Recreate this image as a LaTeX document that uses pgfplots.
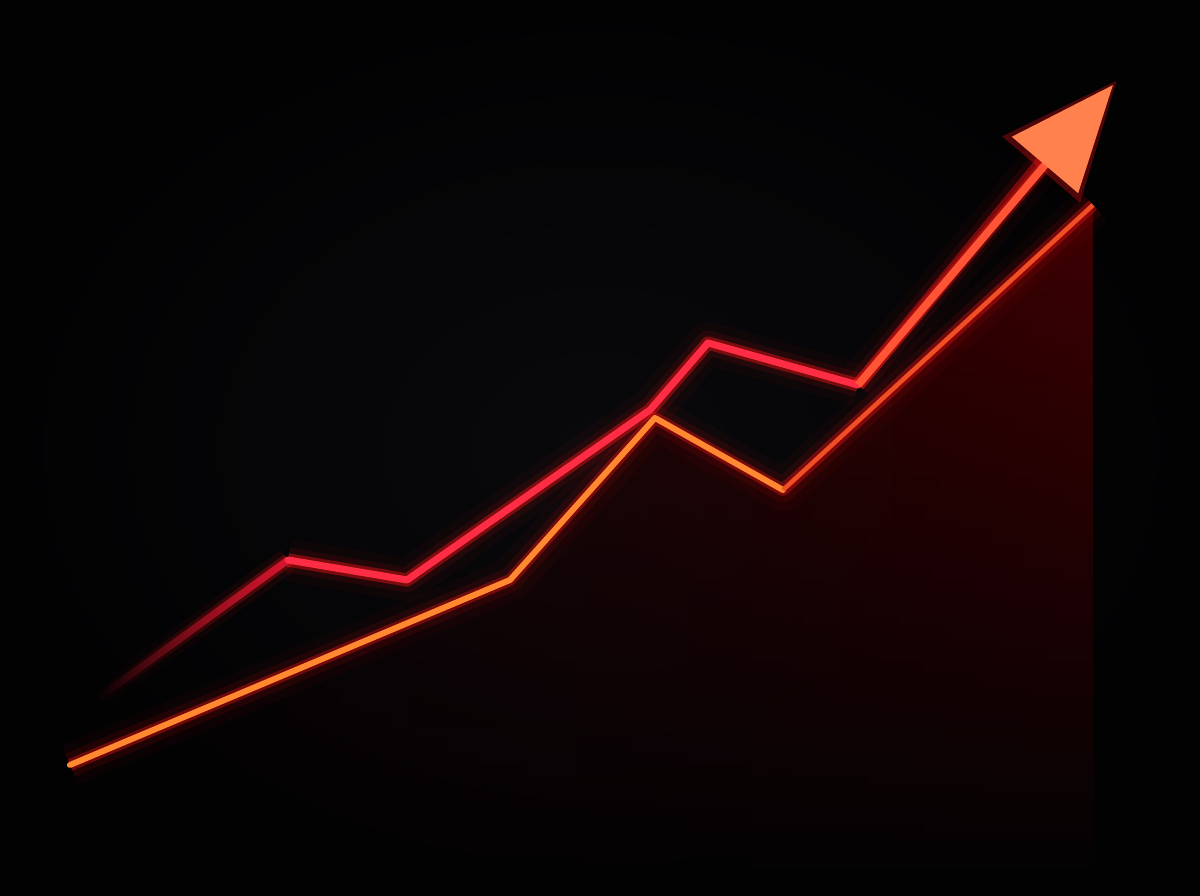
\documentclass[border=0pt]{standalone}
\usepackage{pgfplots}
\pgfplotsset{compat=1.18}
\usepackage{pgfplotstable}
\usetikzlibrary{arrows.meta,fadings}

% coordinates in picture pixels, y measured upward
\pgfplotstableread{
x y
288 336
407 316
650 486
708 553
858 511
}\redline
\pgfplotstableread{
x y
858 511
1113 811
}\redtip
\pgfplotstableread{
x y
858 511
1043 735
}\redshaft
\pgfplotstableread{
x y
100 199
288 336
}\redstart
\pgfplotstableread{
x y
70 131
510 316
655 478
783 406
1093 691
}\orangeline
\pgfplotstableread{
x y
70 131
510 316
655 478
783 406
}\orangeleft
\pgfplotstableread{
x y
783 406
1093 691
}\orangeright

\definecolor{redc}{RGB}{255,44,70}
\definecolor{glowc}{RGB}{255,20,20}
\definecolor{startc}{RGB}{215,22,48}
\definecolor{tipc}{RGB}{255,84,54}
\definecolor{headc}{RGB}{255,130,78}
\definecolor{orangec}{RGB}{255,136,48}
\definecolor{orangered}{RGB}{242,78,38}
\definecolor{areatop}{RGB}{62,0,2}
\definecolor{areamid}{RGB}{24,0,1}
\definecolor{bgin}{RGB}{9,9,12}
\definecolor{bgout}{RGB}{2,2,3}

\tikzfading[name=fadein, left color=transparent!100, right color=transparent!0]
\tikzfading[name=areafade, left color=transparent!100, middle color=transparent!60, right color=transparent!0]

\pgfplotsset{
    glowwide/.style={glowc, line width=12pt, opacity=0.04, line join=round},
    glowmid/.style={glowc, line width=7pt, opacity=0.09, line join=round},
    glowtight/.style={glowc, line width=3.8pt, opacity=0.4, line join=round},
}

\begin{document}
\begin{tikzpicture}
\shade[inner color=bgin, outer color=bgout] (0,0) rectangle (12,8.96);
\begin{axis}[
    width=12cm, height=8.96cm,
    scale only axis,
    xmin=0, xmax=1200, ymin=0, ymax=896,
    hide axis,
    clip=true,
]

% dark red area under the orange line
\addplot[draw=none, shade, top color=areatop, middle color=areamid, bottom color=bgout,
    path fading=areafade] table {\orangeline} \closedcycle;

% glow
\addplot[glowwide] table {\orangeline};
\addplot[glowmid] table {\orangeline};
\addplot[glowtight, line width=3.4pt, opacity=0.35] table {\orangeline};
\addplot[glowwide] table {\redline};
\addplot[glowmid] table {\redline};
\addplot[glowtight] table {\redline};
\addplot[glowwide] table {\redshaft};
\addplot[glowmid] table {\redshaft};
\addplot[glowtight] table {\redshaft};
\addplot[glowmid, path fading=fadein] table {\redstart};
\addplot[glowtight, opacity=0.3, path fading=fadein] table {\redstart};
\addplot[glowc, opacity=0.3, line width=3.5pt, shorten >=-0.06cm,
    -{Triangle[length=1.17cm, width=0.99cm]}] table {\redtip};

% orange line
\addplot[orangec, line width=1.7pt, line join=round, line cap=round] table {\orangeleft};
\addplot[orangered, line width=1.3pt, line join=round] table {\orangeright};

% red line
\addplot[startc, line width=2pt, path fading=fadein] table {\redstart};
\addplot[redc, line width=2pt, line join=round, line cap=round] table {\redline};
\addplot[tipc, line width=2.2pt,
    -{Triangle[length=1.05cm, width=0.85cm, fill=headc, color=headc]}] table {\redtip};
\end{axis}
\end{tikzpicture}
\end{document}
